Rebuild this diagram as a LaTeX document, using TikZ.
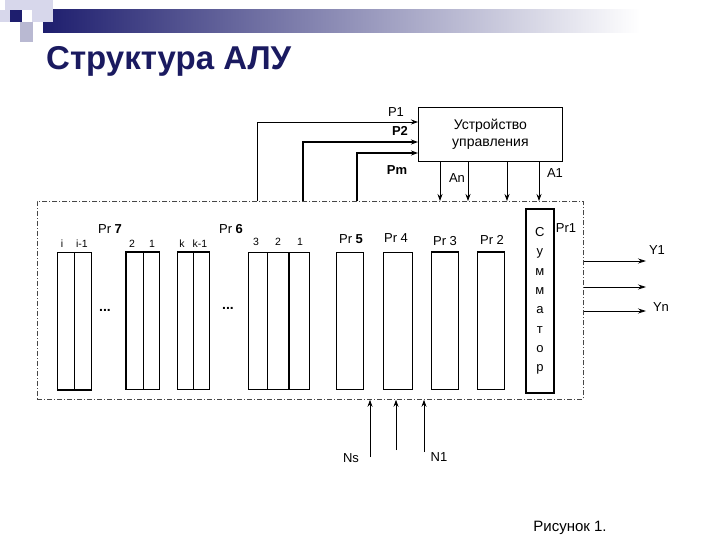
\documentclass[tikz,border=0pt]{standalone}
\usepackage{fontspec}
\setmainfont{Liberation Sans}
\usetikzlibrary{arrows.meta}
\definecolor{navy}{RGB}{26,26,96}
\definecolor{barnavy}{RGB}{30,30,110}
\definecolor{barmid}{RGB}{160,160,190}
\definecolor{lavA}{RGB}{215,215,235}
\definecolor{lavB}{RGB}{185,185,210}
\definecolor{dashgray}{RGB}{70,70,70}
\begin{document}
\begin{tikzpicture}[x=1pt,y=-1pt,
  lbl/.style={font=\fontsize{13}{14}\selectfont, inner sep=0pt},
  bit/.style={font=\fontsize{10.5}{12}\selectfont, inner sep=0pt},
  reg/.style={draw, line width=0.8pt, inner sep=0pt, anchor=north west, minimum height=137pt},
  wire/.style={line width=0.8pt},
  thickwire/.style={line width=1.5pt},
  arr/.style={-{Stealth[length=7pt,width=5pt]}},
  bigarr/.style={-{Stealth[length=8pt,width=5pt]}},
]
\useasboundingbox (0,0) rectangle (720,540);
\fill[white] (0,0) rectangle (720,540);

% header decoration
\shade[left color=barnavy, middle color=barmid, right color=white] (43,10) rectangle (640,33);
\fill[lavA] (5,0) rectangle (32,10);
\fill[lavA] (32,0) rectangle (53,22);
\fill[lavA] (0,10) rectangle (10,22);
\fill[lavB] (20,22) rectangle (33,42);
\fill[barnavy] (10,10) rectangle (22,22);

% title
\node[anchor=base west, text=navy, font=\fontsize{33}{36}\selectfont\bfseries, inner sep=0pt] (title) at (46,70) {Структура АЛУ};

% control unit
\node[draw, line width=0.8pt, minimum width=144pt, minimum height=54pt, inner sep=0pt, anchor=north west,
      align=center, font=\fontsize{14}{16.5}\selectfont] (cu) at (418,107) {Устройство\\управления};

% ALU dashed box
\node[draw=dashgray, line width=0.8pt, dash pattern=on 5pt off 2pt on 1pt off 2pt,
      minimum width=546pt, minimum height=198pt, inner sep=0pt, anchor=north west] (alu) at (37,201) {};

% registers
\node[reg, minimum width=34pt] (r7a) at (57,252) {};
\draw[wire] (r7a.north) -- (r7a.south);
\draw[line width=2pt] (r7a.south west) -- (r7a.south east);

\node[reg, minimum width=33pt] (r7b) at (126,252) {};
\draw[wire] (r7b.north) -- (r7b.south);
\draw[line width=2pt] (r7b.south west) -- (r7b.north west) -- (r7b.north east);

\node[reg, minimum width=32pt] (r7c) at (177,252) {};
\draw[wire] (r7c.north) -- (r7c.south);
\draw[line width=2pt] (r7c.north west) -- (r7c.north east);

\node[reg, minimum width=61pt] (r6) at (248,252) {};
\draw[wire] ([xshift=19pt]r6.north west) -- ([xshift=19pt]r6.south west);
\draw[line width=2pt] ([xshift=41pt]r6.north west) -- ([xshift=41pt]r6.south west);

\node[reg, minimum width=27pt] (r5) at (336,252) {};
\node[reg, minimum width=29pt] (r4) at (383,252) {};
\node[reg, minimum width=27pt] (r3) at (431,252) {};
\draw[line width=2pt] (r3.north west) -- (r3.north east);
\node[reg, minimum width=27pt] (r2) at (477,252) {};
\draw[line width=2pt] (r2.north west) -- (r2.north east);

% summator
\node[draw, line width=1.8pt, minimum width=28pt, minimum height=184pt, inner sep=0pt, anchor=north west] (sum) at (525,208) {};
\node[align=center, font=\fontsize{13}{19.3}\selectfont, inner sep=0pt] (sumtxt) at (sum.center) {С\\у\\м\\м\\а\\т\\о\\р};

% register labels
\node[lbl] (lpr7) at (110,229) {Pr \textbf{7}};
\node[lbl] (lpr6) at (231,229) {Pr \textbf{6}};
\node[lbl] (lpr5) at (351,239) {Pr \textbf{5}};
\node[lbl] (lpr4) at (396,238) {Pr 4};
\node[lbl] (lpr3) at (445,241) {Pr 3};
\node[lbl] (lpr2) at (492,240) {Pr 2};
\node[lbl] (lpr1) at (566,228) {Pr1};

% bit labels
\node[bit] (bi) at (62,244) {i};
\node[bit] (bi1) at (82,244) {i-1};
\node[bit] (b72) at (132,244) {2};
\node[bit] (b71) at (152,244) {1};
\node[bit] (bk) at (182,244) {k};
\node[bit] (bk1) at (200,244) {k-1};
\node[bit] (b63) at (256,242) {3};
\node[bit] (b62) at (278,242) {2};
\node[bit] (b61) at (300,242) {1};

% dots
\node[lbl, font=\fontsize{14}{14}\selectfont\bfseries] (dots1) at (105,310) {...};
\node[lbl, font=\fontsize{14}{14}\selectfont\bfseries] (dots2) at (228,308) {...};

% inputs P1, P2, Pm
\coordinate (p1a) at (257,201);
\coordinate (p2a) at (303,201);
\coordinate (pma) at (357,201);
\draw[wire, arr] (p1a) |- ([yshift=-15pt]cu.north west);
\draw[thickwire, arr] (p2a) |- ([yshift=-35pt]cu.north west);
\draw[thickwire, arr] (pma) |- ([yshift=-46pt]cu.north west);
\node[lbl] (lp1) at (396,112) {P1};
\node[lbl, font=\fontsize{13}{14}\selectfont\bfseries] (lp2) at (400,131) {P2};
\node[lbl, font=\fontsize{13}{14}\selectfont\bfseries] (lpm) at (397,170) {Pm};

% outputs of control unit
\foreach \dx/\nm in {22/an, 50/ab, 89/ac, 121/aa} {
  \coordinate (\nm) at ([xshift=\dx pt]cu.south west);
  \draw[wire, arr] (\nm) -- (\nm |- alu.north);
}
\node[lbl] (lan) at (457,178) {An};
\node[lbl] (la1) at (555,173) {A1};

% bottom inputs
\coordinate (ns) at (370,457);
\coordinate (nm) at (396,450);
\coordinate (n1) at (424,452);
\draw[wire, arr] (ns) -- (ns |- alu.south);
\draw[wire, arr] (nm) -- (nm |- alu.south);
\draw[wire, arr] (n1) -- (n1 |- alu.south);
\node[lbl] (lns) at (351,458) {Ns};
\node[lbl] (ln1) at (439,457) {N1};

% outputs
\coordinate (y1) at (646,261);
\coordinate (ym) at (646,287);
\coordinate (yn) at (646,311);
\draw[wire, bigarr] (y1 -| alu.east) -- (y1);
\draw[wire, bigarr] (ym -| alu.east) -- (ym);
\draw[wire, bigarr] (yn -| alu.east) -- (yn);
\node[lbl] (ly1) at (657,250) {Y1};
\node[lbl] (lyn) at (661,307) {Yn};

% caption
\node[font=\fontsize{15}{16}\selectfont, inner sep=0pt] (cap) at (570,528) {Рисунок 1.};
\end{tikzpicture}
\end{document}
